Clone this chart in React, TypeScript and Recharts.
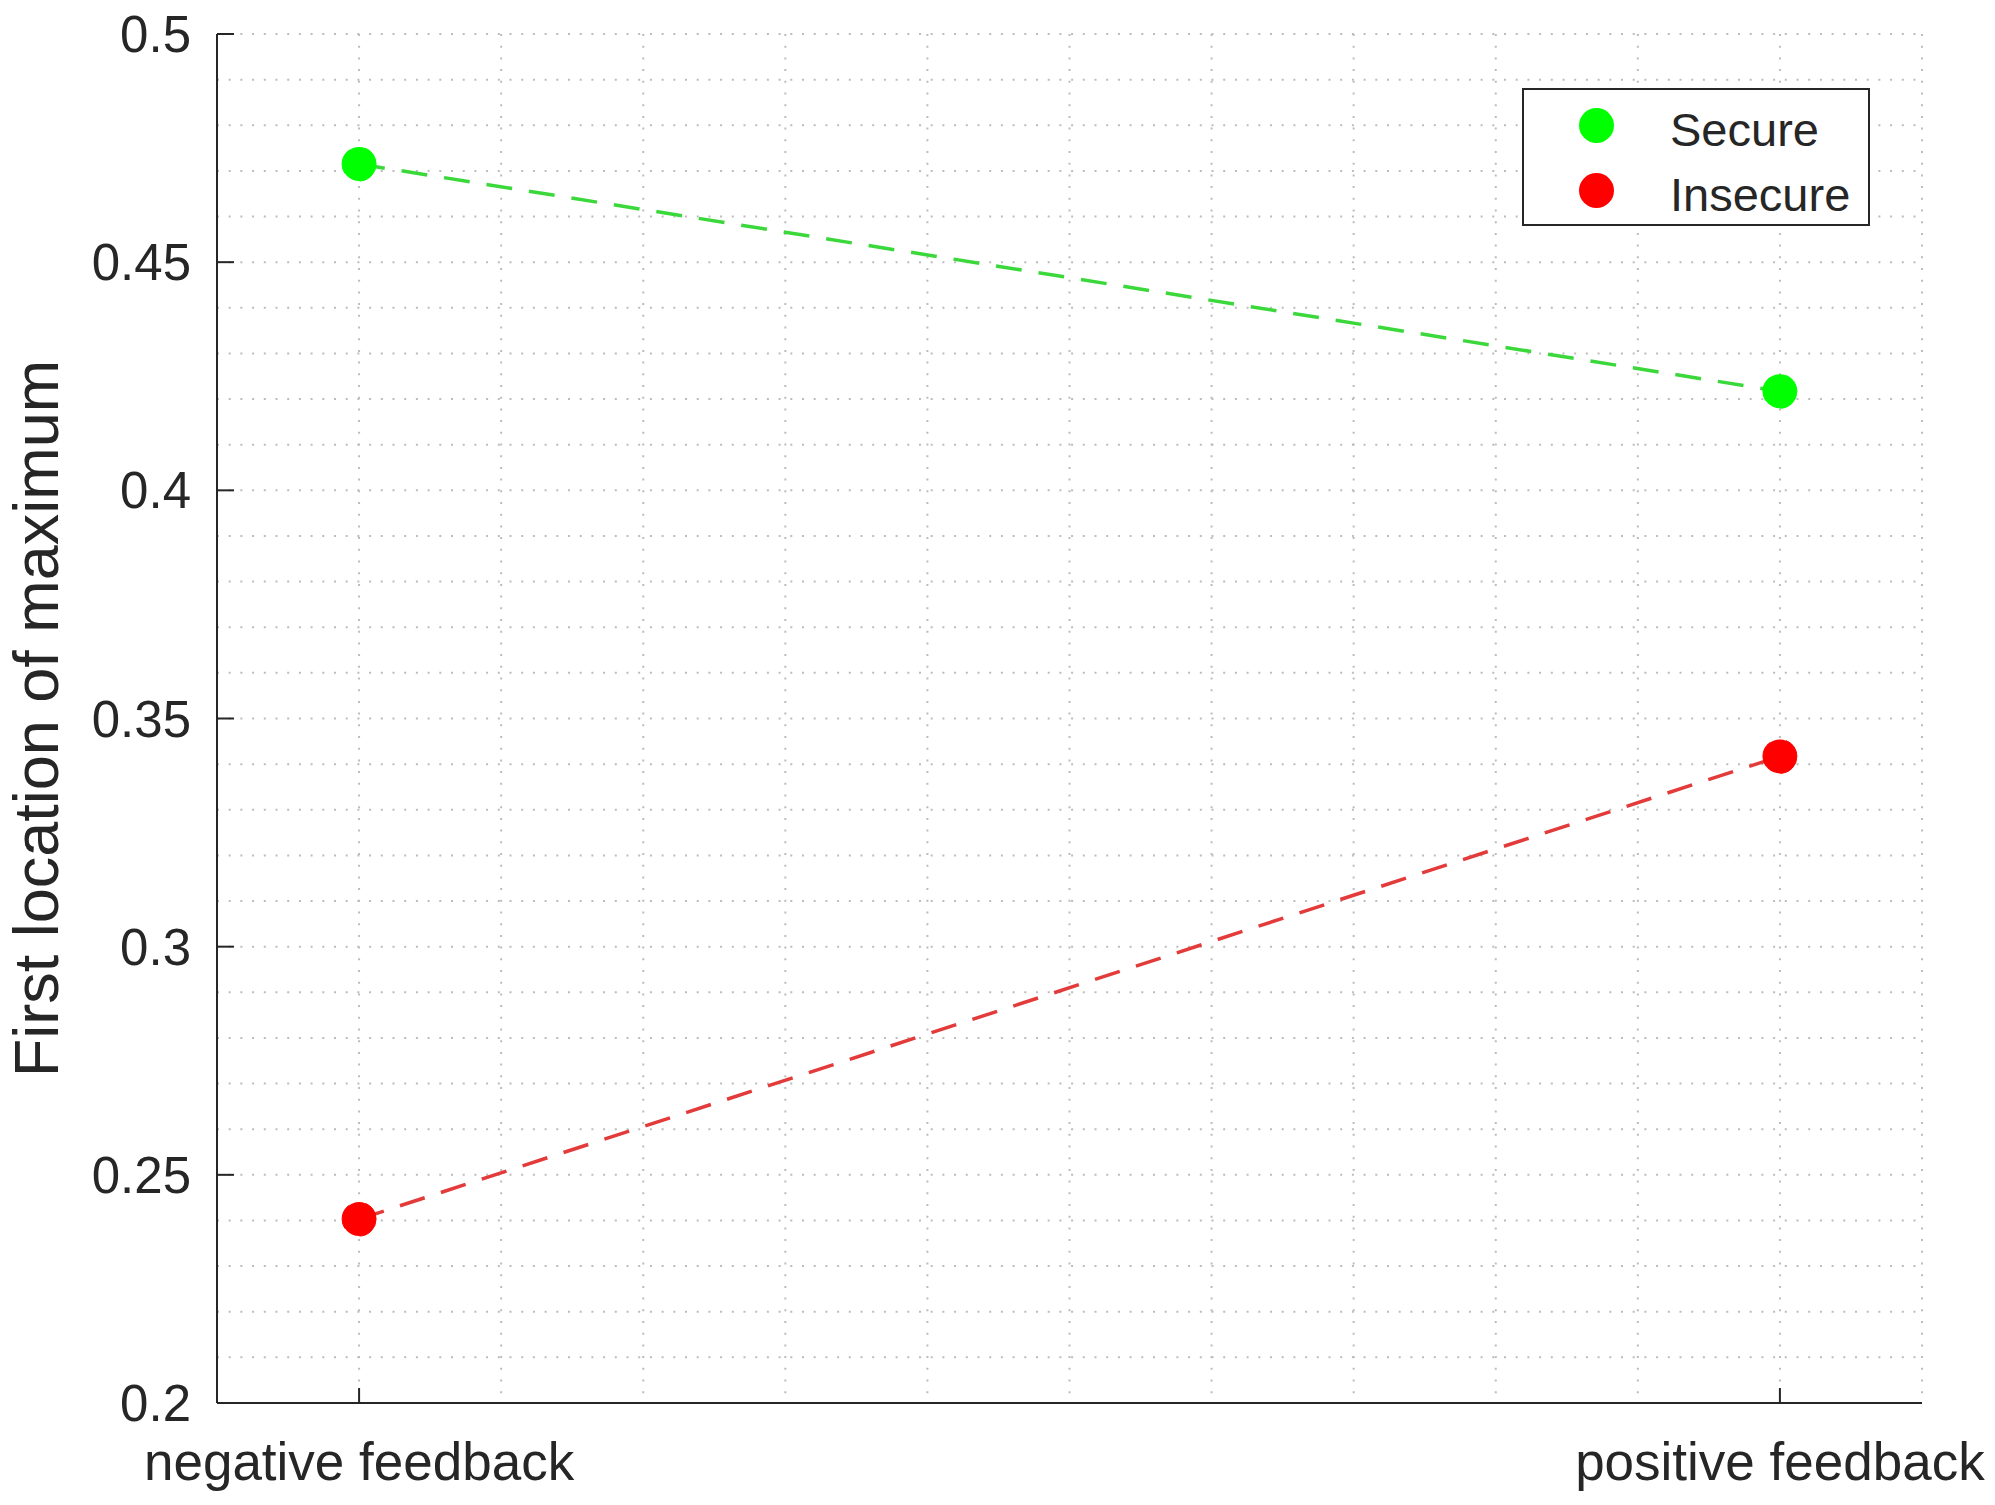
import * as React from 'react';
import { LineChart, Line, XAxis, YAxis, CartesianGrid, Legend } from 'recharts';

const categories = ['negative feedback', 'positive feedback'];
const xPositions = [1, 2];
const secure = [0.4715, 0.4217];
const insecure = [0.2403, 0.3417];
const seriesNames = ['Secure', 'Insecure'];
const yMajorTicks = [0.2, 0.25, 0.3, 0.35, 0.4, 0.45, 0.5];
const yLabel = 'First location of maximum';

const data = categories.map((c, i) => ({ x: xPositions[i], name: c, Secure: secure[i], Insecure: insecure[i] }));

// minor grid every 0.1 on x and 0.01 on y, like matlab's minor grid
const xGrid = Array.from({ length: 12 }, (_, i) => +(0.9 + i * 0.1).toFixed(1));
const yGrid = Array.from({ length: 31 }, (_, i) => +(0.2 + i * 0.01).toFixed(2));

const FONT = '"Liberation Sans", Arial, sans-serif';
const INK = '#262626';
const markerColors: Record<string, string> = { Secure: '#00ff00', Insecure: '#ff0000' };

const XTick = (props: any) => {
  const { x, y, payload } = props;
  const idx = xPositions.indexOf(payload.value);
  if (idx < 0) return null;
  return (
    <g>
      <line x1={x} x2={x} y1={y} y2={y - 15} stroke={INK} strokeWidth={2} />
      <text x={x} y={y + 77} textAnchor="middle" fontSize={53} fill={INK} fontFamily={FONT}>
        {categories[idx]}
      </text>
    </g>
  );
};

const YTick = (props: any) => {
  const { x, y, payload } = props;
  if (!yMajorTicks.includes(payload.value)) return null;
  return (
    <g>
      <line x1={x} x2={x + 17} y1={y} y2={y} stroke={INK} strokeWidth={2} />
      <text x={x - 26} y={y + 18} textAnchor="end" fontSize={51} fill={INK} fontFamily={FONT}>
        {String(payload.value)}
      </text>
    </g>
  );
};

const YLabel = (props: any) => {
  const { viewBox } = props;
  const cy = viewBox.y + viewBox.height / 2;
  const bx = viewBox.x + 58;
  return (
    <text
      x={bx}
      y={cy}
      transform={`rotate(-90, ${bx}, ${cy})`}
      textAnchor="middle"
      fontSize={63}
      fill={INK}
      fontFamily={FONT}
    >
      {yLabel}
    </text>
  );
};

const LegendBox = ({ payload }: any) => {
  const items = [...(payload || [])].sort(
    (a: any, b: any) => seriesNames.indexOf(a.value) - seriesNames.indexOf(b.value)
  );
  return (
    <div
      style={{
        width: 348,
        height: 138,
        boxSizing: 'border-box',
        border: `2px solid ${INK}`,
        background: '#fff',
        paddingTop: 3,
        fontFamily: FONT,
      }}
    >
      {items.map((p: any) => (
        <div key={p.value} style={{ display: 'flex', alignItems: 'center', height: 65 }}>
          <div
            style={{
              width: 35,
              height: 35,
              borderRadius: '50%',
              background: markerColors[p.value],
              marginLeft: 55,
            }}
          />
          <span style={{ marginLeft: 56, fontSize: 47, color: INK, position: 'relative', top: 4 }}>{p.value}</span>
        </div>
      ))}
    </div>
  );
};

const App = () => {
  return (
    <div style={{ position: 'absolute', left: 0, top: 0, background: '#fff' }}>
      <LineChart
        width={1995}
        height={1505}
        data={data}
        margin={{ top: 34, right: 73, bottom: 0, left: 0 }}
        style={{ fontFamily: FONT }}
      >
        <CartesianGrid stroke="#bcbcbc" strokeWidth={2} strokeDasharray="2 9.7" />
        <XAxis
          type="number"
          dataKey="x"
          domain={[0.9, 2.1]}
          ticks={xGrid}
          interval={0}
          height={102}
          tickSize={0}
          tickMargin={0}
          tickLine={false}
          axisLine={{ stroke: INK, strokeWidth: 2 }}
          tick={<XTick />}
        />
        <YAxis
          type="number"
          domain={[0.2, 0.5]}
          ticks={yGrid}
          interval={0}
          width={217}
          tickSize={0}
          tickMargin={0}
          tickLine={false}
          axisLine={{ stroke: INK, strokeWidth: 2 }}
          tick={<YTick />}
          label={<YLabel />}
        />
        <Legend
          layout="horizontal"
          verticalAlign="middle"
          align="center"
          content={<LegendBox />}
          wrapperStyle={{ left: 1522, top: 88, width: 348, height: 138 }}
        />
        <Line
          dataKey="Secure"
          name="Secure"
          stroke="#3bd83b"
          strokeWidth={3.5}
          strokeDasharray="26 17"
          dot={{ r: 17, fill: markerColors.Secure, stroke: markerColors.Secure, strokeWidth: 1 }}
          activeDot={false}
          isAnimationActive={false}
        />
        <Line
          dataKey="Insecure"
          name="Insecure"
          stroke="#e33a3a"
          strokeWidth={3.5}
          strokeDasharray="26 17"
          dot={{ r: 17, fill: markerColors.Insecure, stroke: markerColors.Insecure, strokeWidth: 1 }}
          activeDot={false}
          isAnimationActive={false}
        />
      </LineChart>
    </div>
  );
};

export default App;
